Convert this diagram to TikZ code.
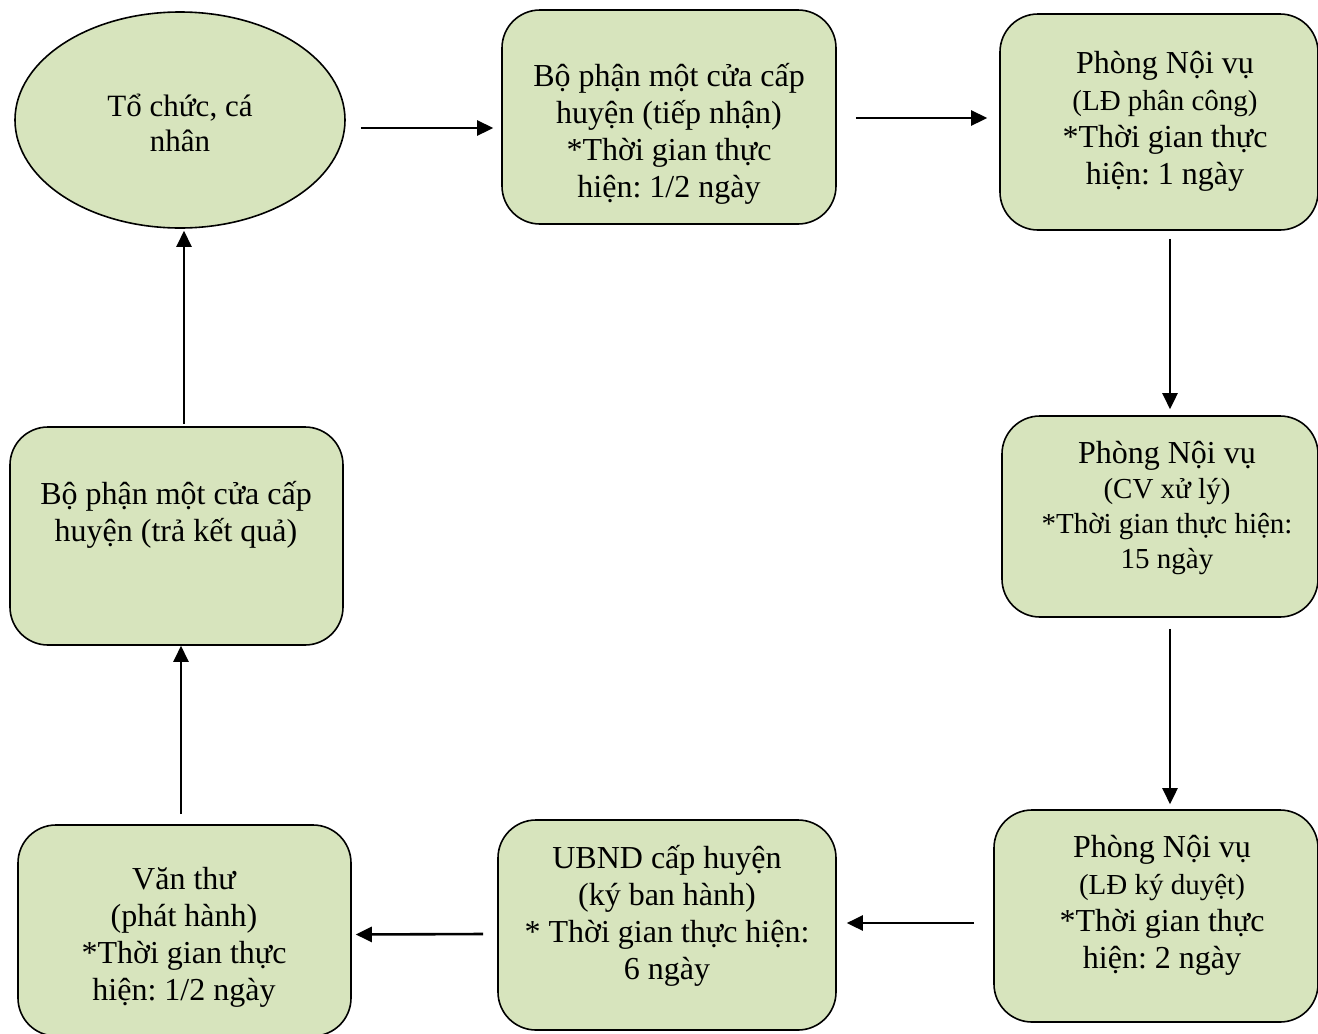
\documentclass[tikz,border=0pt]{standalone}
\usepackage{fontspec}
\setmainfont{Liberation Serif}
\usepackage{tikz}
\usetikzlibrary{arrows.meta,calc,shapes.geometric}
\definecolor{boxgreen}{HTML}{D7E4BD}
\frenchspacing

\begin{document}
\begin{tikzpicture}[x=1pt,y=-1pt,
    box/.style={draw=black,line width=1.6pt,fill=boxgreen,rounded corners=38pt,inner sep=0pt},
    oval/.style={ellipse,draw=black,line width=1.6pt,fill=boxgreen,inner sep=0pt},
    txt/.style={align=center,inner sep=0pt,font=\fontsize{32}{37}\selectfont},
    sm/.style={font=\fontsize{29}{35}\selectfont},
    arr/.style={line width=2.6pt,-{Triangle[length=16pt,width=15pt]}}]
  \useasboundingbox (0,0) rectangle (1318,1034);
  % shapes
  \node[oval,minimum width=330,minimum height=216] (tochuc) at (180,120) {};
  \node[box,minimum width=334,minimum height=214] (tiepnhan) at (669,117) {};
  \node[box,minimum width=318,minimum height=216] (ldpc) at (1159,122) {};
  \node[box,minimum width=316,minimum height=201] (cvxl) at (1160,516.5) {};
  \node[box,minimum width=324,minimum height=212] (kyduyet) at (1156,916) {};
  \node[box,minimum width=338,minimum height=210] (ubnd) at (667,925) {};
  \node[box,minimum width=333,minimum height=211] (vanthu) at (184.5,930.5) {};
  \node[box,minimum width=333,minimum height=218] (trakq) at (176.5,536) {};
  % texts
  \node[txt,font=\fontsize{31}{35}\selectfont] (tochuc-t) at (180,123) {Tổ chức, cá\\nhân};
  \node[txt] (tiepnhan-t) at (669,134) {Bộ phận một cửa cấp\\huyện (tiếp nhận)\\*Thời gian thực\\hiện: 1/2 ngày};
  \node[txt] (ldpc-t) at (1165,121) {Phòng Nội vụ\\{\fontsize{29}{35}\selectfont(LĐ phân công)}\\*Thời gian thực\\hiện: 1 ngày};
  \node[txt,sm] (cvxl-t) at (1167,508) {{\fontsize{32}{37}\selectfont Phòng Nội vụ}\\(CV xử lý)\\*Thời gian thực hiện:\\15 ngày};
  \node[txt] (kyduyet-t) at (1162,905) {Phòng Nội vụ\\{\fontsize{29}{35}\selectfont(LĐ ký duyệt)}\\*Thời gian thực\\hiện: 2 ngày};
  \node[txt] (ubnd-t) at (667,916) {UBND cấp huyện\\(ký ban hành)\\* Thời gian thực hiện:\\6 ngày};
  \node[txt] (vanthu-t) at (184,937) {Văn thư\\(phát hành)\\*Thời gian thực\\hiện: 1/2 ngày};
  \node[txt] (trakq-t) at (176,515) {Bộ phận một cửa cấp\\huyện (trả kết quả)};
  % arrows
  \draw[arr] ($(tochuc.east)+(15,8)$) -- ($(tiepnhan.west)+(-8,11)$);
  \draw[arr] ($(tiepnhan.east)+(19,1)$) -- ($(ldpc.west)+(-12,-4)$);
  \draw[arr] ($(ldpc.south)+(11,8)$) -- ($(cvxl.north)+(10,-6)$);
  \draw[arr] ($(cvxl.south)+(10,11)$) -- ($(kyduyet.north)+(14,-5)$);
  \draw[arr] ($(kyduyet.west)+(-19,7)$) -- ($(ubnd.east)+(10,-2)$);
  \draw[arr] ($(ubnd.west)+(-14,9)$) -- ($(vanthu.east)+(4,4)$);
  \draw[arr] ($(vanthu.north)+(-3.5,-10)$) -- ($(trakq.south)+(4.5,0)$);
  \draw[arr] ($(trakq.north)+(7.5,-2)$) -- ($(tochuc.south)+(4,2)$);
\end{tikzpicture}
\end{document}
